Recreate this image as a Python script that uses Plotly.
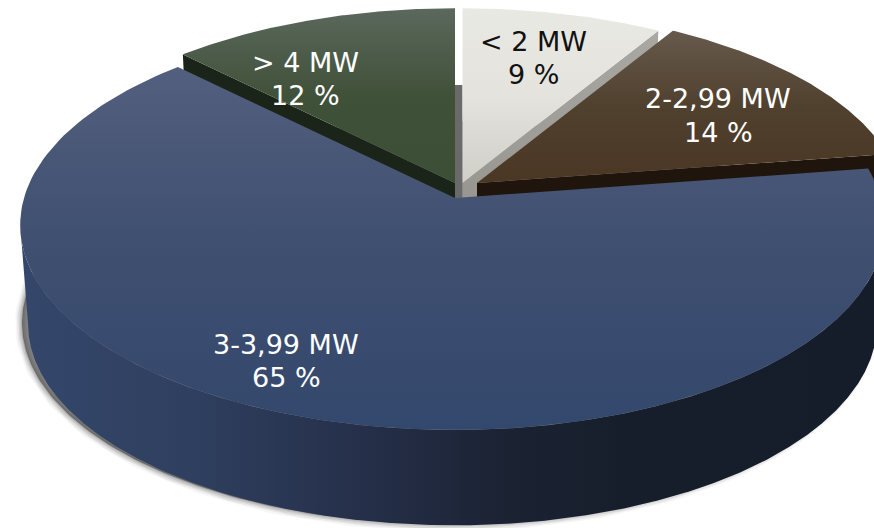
import numpy as np
import plotly.graph_objects as go

# ---- data ----
categories = ["< 2 MW", "2-2,99 MW", "3-3,99 MW", "> 4 MW"]
shares = [8.6, 14.0, 64.9, 12.4]
share_labels = ["9 %", "14 %", "65 %", "12 %"]

# ---- styling / geometry ----
TOP_GRAD = {
    "< 2 MW": ["#e9e9e4", "#e4e3de", "#cfcec7"],
    "2-2,99 MW": ["#665a4c", "#50402e", "#4a3724"],
    "3-3,99 MW": ["#535f7e", "#3f4f70", "#33486d"],
    "> 4 MW": ["#5b685c", "#405139", "#3b4e36"],
}
WALL = {"< 2 MW": ("#a9a8a2", "#8e8d87"), "2-2,99 MW": ("#1f150d", "#1f150d"), "> 4 MW": ("#1a2419", "#1a2419")}
APEX = {"< 2 MW": (462.5, 183), "2-2,99 MW": (477, 183), "3-3,99 MW": (455, 198), "> 4 MW": (455, 183)}
SCALE = {"< 2 MW": 0.982, "2-2,99 MW": 0.982, "3-3,99 MW": 1.0, "> 4 MW": 0.982}
TEXT_POS = {"< 2 MW": (533, 41, 74), "2-2,99 MW": (718, 98, 132), "3-3,99 MW": (286, 344, 377), "> 4 MW": (305, 62, 95)}
TEXT_COL = {"< 2 MW": "#111111", "2-2,99 MW": "#ffffff", "3-3,99 MW": "#ffffff", "> 4 MW": "#ffffff"}
A, A_RIGHT_BLUE, B, K = 431.0, 426.0, 201.4, 0.1317
DEPTH_SCALE, DEPTH = 0.982, 99.5


def project(theta_deg, apex, scale=1.0, dy=0.0, a_right=A):
    t = np.radians(theta_deg)
    u, v = np.sin(t), -np.cos(t)
    w = 1 - K * v
    a = np.where(u > 0, a_right, A)
    return apex[0] + scale * a * u / w, apex[1] + dy + scale * B * v / w


def scale3(cols):
    # colour 0 of a vertical fill gradient lands at the bottom of the shape on screen
    return [[0, cols[2]], [0.5, cols[1]], [1, cols[0]]]


fractions = np.array(shares) / sum(shares) * 360
ends = np.cumsum(fractions)
starts = ends - fractions
ANG = {c: (s, e) for c, s, e in zip(categories, starts, ends)}
blue = "3-3,99 MW"

fig = go.Figure()


def poly(x, y, **kw):
    fig.add_trace(go.Scatter(x=list(x), y=list(y), mode="lines", fill="toself", hoverinfo="skip",
                             showlegend=False, **kw))


def wedge(c):
    s, e = ANG[c]
    th = np.linspace(s, e, 160)
    x, y = project(th, APEX[c], SCALE[c], a_right=A_RIGHT_BLUE if c == blue else A)
    return np.r_[APEX[c][0], x, APEX[c][0]], np.r_[APEX[c][1], y, APEX[c][1]]


def cut_wall(c, theta):
    ax, ay = APEX[c]
    tx, ty = project(theta, APEX[c], SCALE[c])
    bx, by = project(theta, APEX[c], SCALE[c] * DEPTH_SCALE, DEPTH)
    return [ax, float(tx), float(bx), ax, ax], [ay, float(ty), float(by), ay + DEPTH, ay]


NOLINE = dict(width=0, color="rgba(0,0,0,0)")


def top(c):
    x, y = wedge(c)
    poly(x, y, line=NOLINE, fillgradient=dict(type="vertical", colorscale=scale3(TOP_GRAD[c])))


# soft shadow beneath the pie
ring = np.linspace(0, 360, 361)
sx, sy = project(ring, APEX[blue], DEPTH_SCALE, DEPTH, a_right=A_RIGHT_BLUE)
for lw, alpha in [(14, 0.04), (11, 0.06), (8, 0.08), (5, 0.10), (2, 0.14)]:
    fig.add_trace(go.Scatter(x=list(sx - 6), y=list(sy - 1), mode="lines", hoverinfo="skip", showlegend=False,
                             line=dict(width=lw, color=f"rgba(30,30,30,{alpha})")))
poly(sx - 6, sy - 1, line=NOLINE, fillcolor="rgba(60,60,60,0.6)")

# inner back wall seen through the gap between the two rear slices
gx0, gx1 = APEX["> 4 MW"][0], APEX["< 2 MW"][0]
poly([gx0, gx1, gx1, gx0, gx0], [85, 85, 199, 199, 85], line=NOLINE, fillcolor="#6a6a6a")

# rear slices
for c, th in [("> 4 MW", ANG["> 4 MW"][0]), ("< 2 MW", ANG["< 2 MW"][1]), ("2-2,99 MW", ANG["2-2,99 MW"][1])]:
    x, y = cut_wall(c, th)
    if c == "< 2 MW":
        poly(x, y, line=NOLINE, fillgradient=dict(type="vertical", colorscale=[[0, WALL[c][1]], [1, WALL[c][0]]]))
    else:
        poly(x, y, line=NOLINE, fillcolor=WALL[c][0])
    top(c)

# outer wall of the large slice, between the extreme left and right points of the rim
s, e = ANG[blue]
th = np.linspace(s, e, 1200)
rx, _ = project(th, APEX[blue], a_right=A_RIGHT_BLUE)
th = th[int(np.argmax(rx)):int(np.argmin(rx)) + 1]
tx, ty = project(th, APEX[blue], a_right=A_RIGHT_BLUE)
bx, by = project(th, APEX[blue], DEPTH_SCALE, DEPTH, a_right=A_RIGHT_BLUE)
tip_x, tip_y = project(s, APEX[blue], a_right=A_RIGHT_BLUE)
poly(np.r_[tip_x, tx, bx[::-1], tip_x], np.r_[tip_y, ty, by[::-1], tip_y], line=NOLINE,
     fillgradient=dict(type="horizontal", colorscale=[[0, "#34476b"], [0.2, "#2f3f5f"], [0.4, "#252f49"],
                                                      [0.55, "#1b2334"], [0.7, "#171e2b"], [1, "#161d2a"]]))
top(blue)

annotations = []
for c, lab in zip(categories, share_labels):
    xc, y1, y2 = TEXT_POS[c]
    for txt, yy in [(c, y1), (lab, y2)]:
        annotations.append(dict(x=xc, y=yy, text=txt, showarrow=False, xref="x", yref="y",
                                font=dict(family="DejaVu Sans", size=27, color=TEXT_COL[c])))

fig.update_layout(
    width=874, height=528, margin=dict(l=0, r=0, t=0, b=0),
    paper_bgcolor="white", plot_bgcolor="white", showlegend=False,
    xaxis=dict(range=[0, 874], visible=False, fixedrange=True),
    yaxis=dict(range=[528, 0], visible=False, fixedrange=True),
    annotations=annotations,
)
fig.write_html("out.html", config={"displayModeBar": False},
               post_script="document.body.style.margin='0';document.body.style.overflow='hidden';")
